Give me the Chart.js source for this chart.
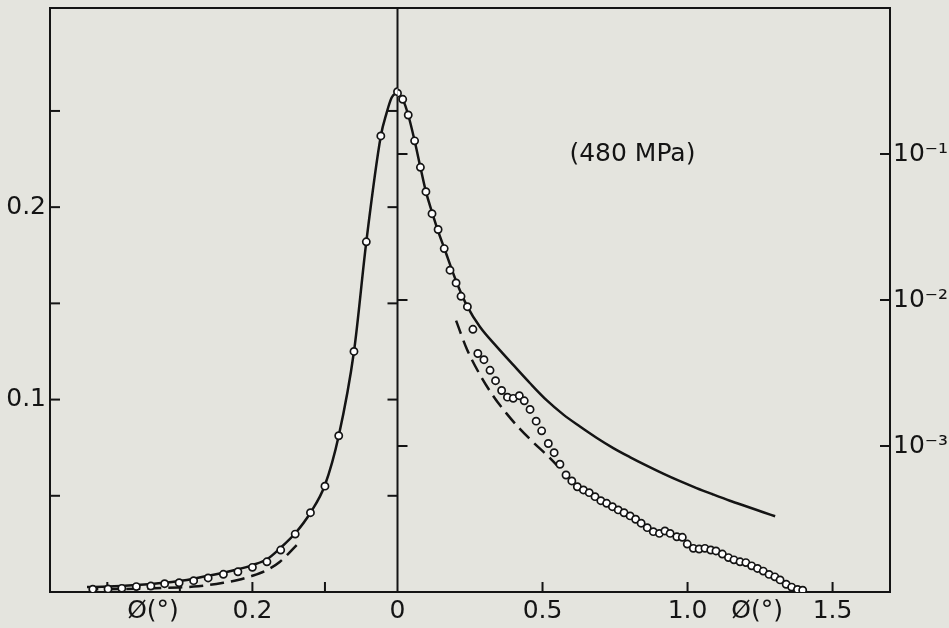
<!DOCTYPE html>
<html>
<head>
<meta charset="utf-8">
<script src="https://cdn.jsdelivr.net/npm/chart.js@4.4.1/dist/chart.umd.min.js"></script>
<style>
  html, body { margin: 0; padding: 0; background: #e4e4de; }
  canvas { display: block; }
</style>
</head>
<body>
<canvas id="profile" width="949" height="628"></canvas>
<script>
// left half: linear intensity, phi mirrored
const leftSolidPhi = [0, 0.008, 0.015, 0.023, 0.043, 0.060, 0.081, 0.100, 0.120, 0.141, 0.161, 0.180, 0.200, 0.220, 0.240, 0.261, 0.281, 0.301, 0.321, 0.360, 0.399, 0.428];
const leftSolidI   = [0.2596, 0.257, 0.249, 0.237, 0.182, 0.125, 0.0812, 0.0556, 0.0412, 0.0305, 0.0230, 0.0170, 0.0140, 0.0118, 0.0100, 0.0085, 0.0069, 0.0057, 0.0048, 0.0036, 0.0028, 0.0026];
const leftDashPhi  = [0.139, 0.162, 0.180, 0.201, 0.220, 0.240, 0.261, 0.281, 0.301, 0.321, 0.360, 0.420];
const leftDashI    = [0.0244, 0.0157, 0.0114, 0.0083, 0.0062, 0.0048, 0.0036, 0.0028, 0.0024, 0.0021, 0.0017, 0.0014];
const leftDotPhi   = [0, 0.023, 0.043, 0.060, 0.081, 0.100, 0.120, 0.141, 0.161, 0.180, 0.200, 0.220, 0.240, 0.261, 0.281, 0.301, 0.321, 0.340, 0.360, 0.380, 0.399, 0.420];
const leftDotI     = [0.260, 0.237, 0.182, 0.125, 0.0812, 0.0550, 0.0412, 0.0301, 0.0218, 0.0157, 0.0128, 0.0105, 0.0092, 0.0073, 0.0059, 0.0048, 0.0043, 0.0031, 0.0028, 0.0019, 0.0016, 0.0014];

// right half: log intensity
const rightSolidPhi = [0, 0.018, 0.037, 0.059, 0.079, 0.098, 0.119, 0.140, 0.161, 0.202, 0.241, 0.284, 0.342, 0.399, 0.457, 0.514, 0.572, 0.629, 0.686, 0.744, 0.801, 0.859, 0.916, 0.974, 1.031, 1.089, 1.146, 1.204, 1.261, 1.302];
const rightSolidI   = [0.2606, 0.237, 0.185, 0.1233, 0.0811, 0.0552, 0.0400, 0.0296, 0.0227, 0.0135, 0.0090, 0.00655, 0.00479, 0.00359, 0.00269, 0.00206, 0.00164, 0.00136, 0.00114, 0.000968, 0.000840, 0.000734, 0.000647, 0.000574, 0.000515, 0.000465, 0.000422, 0.000385, 0.000352, 0.000330];
const rightDashPhi  = [0.202, 0.239, 0.285, 0.330, 0.377, 0.422, 0.468, 0.515, 0.549];
const rightDashI    = [0.00722, 0.00462, 0.00306, 0.00220, 0.00166, 0.00131, 0.00106, 0.000867, 0.000741];
const rightDotPhi = [0, 0.018, 0.037, 0.059, 0.079, 0.098, 0.119, 0.140, 0.161, 0.181, 0.202, 0.219, 0.241, 0.260, 0.277, 0.298, 0.319, 0.338, 0.359, 0.379,
  0.399, 0.420, 0.437, 0.457, 0.478, 0.497, 0.520, 0.540, 0.560, 0.581, 0.601, 0.620, 0.641, 0.661, 0.681, 0.701, 0.721, 0.741, 0.761, 0.781,
  0.802, 0.821, 0.840, 0.861, 0.882, 0.903, 0.922, 0.940, 0.963, 0.982, 0.999, 1.020, 1.040, 1.060, 1.080, 1.098, 1.120, 1.141, 1.160, 1.181,
  1.201, 1.221, 1.241, 1.261, 1.281, 1.301, 1.319, 1.340, 1.359, 1.379, 1.397];
const rightDotI = [0.261, 0.237, 0.185, 0.123, 0.0811, 0.0552, 0.0390, 0.0304, 0.0225, 0.0160, 0.0131, 0.0106, 0.0090, 0.0063, 0.0043, 0.0039, 0.0033, 0.0028, 0.0024, 0.00216,
  0.00212, 0.00221, 0.00204, 0.00178, 0.00148, 0.00127, 0.00104, 0.00090, 0.00075, 0.000633, 0.000576, 0.000526, 0.000500, 0.000479, 0.000450, 0.000422, 0.000405, 0.000384, 0.000365, 0.000349,
  0.000332, 0.000315, 0.000296, 0.000276, 0.000259, 0.000252, 0.000262, 0.000252, 0.000239, 0.000237, 0.000213, 0.000199, 0.000197, 0.000199, 0.000194, 0.000191, 0.000182, 0.000172, 0.000166, 0.000161,
  0.000159, 0.000151, 0.000145, 0.000139, 0.000132, 0.000127, 0.000121, 0.000113, 0.000108, 0.000104, 0.000103];

// ticks
const phiLeftTicks   = [0, 0.1, 0.2, 0.3, 0.4];
const phiLeftLabels  = ['0', '', '0.2', '', ''];
const phiRightTicks  = [0.5, 1.0, 1.5];
const phiRightLabels = ['0.5', '1.0', '1.5'];
const linTicks  = [0.05, 0.1, 0.15, 0.2, 0.25];
const linLabels = ['', '0.1', '', '0.2', ''];
const logTicks  = [1e-3, 1e-2, 1e-1];
const logLabels = ['10\u207B\u00B3', '10\u207B\u00B2', '10\u207B\u00B9'];
const phiTitle = '\u00D8(\u00B0)';
const pressureNote = '(480 MPa)';

const ink = '#141414';
const font = { family: '"DejaVu Sans", "Liberation Sans", Arial, sans-serif', size: 25 };

function pts(xs, ys) { return xs.map((x, i) => ({ x: x, y: ys[i] })); }

const frame = {
  id: 'frame',
  beforeDatasetsDraw(chart) {
    const { ctx, chartArea: a, scales } = chart;
    const T = 10;
    const seg = (x1, y1, x2, y2) => { ctx.beginPath(); ctx.moveTo(x1, y1); ctx.lineTo(x2, y2); ctx.stroke(); };
    ctx.save();
    ctx.strokeStyle = ink;
    ctx.lineWidth = 2;
    ctx.strokeRect(a.left, a.top, a.right - a.left, a.bottom - a.top);
    const cx = scales.xL.getPixelForValue(0);
    seg(cx, a.top, cx, a.bottom);
    linTicks.forEach(v => {
      const y = scales.yL.getPixelForValue(v);
      seg(a.left, y, a.left + T, y);
      seg(cx - T, y, cx, y);
    });
    logTicks.forEach(v => {
      const y = scales.yR.getPixelForValue(v);
      seg(a.right - T, y, a.right, y);
      seg(cx, y, cx + T, y);
    });
    phiLeftTicks.forEach(v => {
      if (v === 0) return;
      const x = scales.xL.getPixelForValue(v);
      seg(x, a.bottom, x, a.bottom - T);
    });
    phiRightTicks.forEach(v => {
      const x = scales.xR.getPixelForValue(v);
      seg(x, a.bottom, x, a.bottom - T);
    });
    ctx.fillStyle = ink;
    ctx.font = font.size + 'px ' + font.family;
    ctx.textAlign = 'center';
    ctx.textBaseline = 'middle';
    const ty = a.bottom + 19;
    ctx.fillText(phiTitle, scales.xL.getPixelForValue(0.337), ty);
    ctx.fillText(phiTitle, scales.xR.getPixelForValue(1.24), ty);
    ctx.fillText(pressureNote, scales.xR.getPixelForValue(0.81), scales.yR.getPixelForValue(0.1));
    ctx.restore();
  }
};

const tickStyle = { color: ink, font: font, autoSkip: false, maxRotation: 0 };
const fitX = s => { s.height = 36; s.paddingLeft = 0; s.paddingRight = 0; };
const fitY = w => s => { s.width = w; s.paddingTop = 0; s.paddingBottom = 0; };
const lineStyle = { borderColor: ink, borderWidth: 2.5, pointRadius: 0, cubicInterpolationMode: 'monotone', order: 2 };
const dotStyle = { showLine: false, pointRadius: 3.6, pointBackgroundColor: '#ffffff', pointBorderColor: ink, pointBorderWidth: 1.7, order: 1 };

new Chart(document.getElementById('profile'), {
  type: 'line',
  data: {
    datasets: [
      Object.assign({ data: pts(leftSolidPhi, leftSolidI), xAxisID: 'xL', yAxisID: 'yL' }, lineStyle),
      Object.assign({ data: pts(leftDashPhi, leftDashI), xAxisID: 'xL', yAxisID: 'yL', borderDash: [14, 7] }, lineStyle),
      Object.assign({ data: pts(leftDotPhi, leftDotI), xAxisID: 'xL', yAxisID: 'yL' }, dotStyle),
      Object.assign({ data: pts(rightSolidPhi, rightSolidI), xAxisID: 'xR', yAxisID: 'yR' }, lineStyle),
      Object.assign({ data: pts(rightDashPhi, rightDashI), xAxisID: 'xR', yAxisID: 'yR', borderDash: [14, 7] }, lineStyle),
      Object.assign({ data: pts(rightDotPhi, rightDotI), xAxisID: 'xR', yAxisID: 'yR' }, dotStyle)
    ]
  },
  options: {
    responsive: false,
    animation: false,
    layout: { padding: { top: 8, left: 0, right: 0, bottom: 0 } },
    plugins: { legend: { display: false }, tooltip: { enabled: false } },
    scales: {
      xL: {
        type: 'linear', position: 'bottom', stack: 'phi', stackWeight: 347.5,
        min: 0, max: 0.479, reverse: true,
        grid: { display: false, drawTicks: false }, border: { display: false },
        ticks: Object.assign({ padding: 4, callback: (v, i) => phiLeftLabels[i] }, tickStyle),
        afterBuildTicks: s => { s.ticks = phiLeftTicks.map(v => ({ value: v })); },
        afterFit: fitX
      },
      xR: {
        type: 'linear', position: 'bottom', stack: 'phi', stackWeight: 492.5,
        min: 0, max: 1.698,
        grid: { display: false, drawTicks: false }, border: { display: false },
        ticks: Object.assign({ padding: 4, callback: (v, i) => phiRightLabels[i] }, tickStyle),
        afterBuildTicks: s => { s.ticks = phiRightTicks.map(v => ({ value: v })); },
        afterFit: fitX
      },
      yL: {
        type: 'linear', position: 'left', min: 0, max: 0.3035,
        grid: { display: false, drawTicks: false }, border: { display: false },
        ticks: Object.assign({ padding: 4, callback: (v, i) => linLabels[i] }, tickStyle),
        afterBuildTicks: s => { s.ticks = linTicks.map(v => ({ value: v })); },
        afterFit: fitY(50)
      },
      yR: {
        type: 'logarithmic', position: 'right', min: 1e-4, max: 1,
        grid: { display: false, drawTicks: false }, border: { display: false },
        ticks: Object.assign({ padding: 3, callback: (v, i) => logLabels[i] }, tickStyle),
        afterBuildTicks: s => { s.ticks = logTicks.map(v => ({ value: v })); },
        afterFit: fitY(59)
      }
    }
  },
  plugins: [frame]
});
</script>
</body>
</html>
